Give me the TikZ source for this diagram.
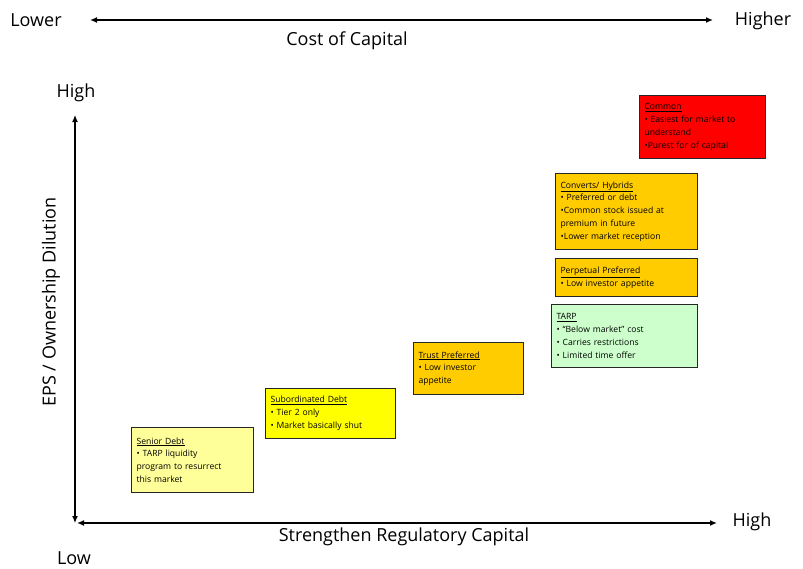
\documentclass[tikz,border=0pt]{standalone}
\usepackage{fontspec}
\setmainfont{Open Sans}
\usepackage{xcolor}
\usetikzlibrary{arrows.meta, positioning}
\definecolor{capred}{HTML}{FF0000}
\definecolor{capgold}{HTML}{FFCC00}
\definecolor{capyellow}{HTML}{FFFF00}
\definecolor{capcream}{HTML}{FFFF99}
\definecolor{capgreen}{HTML}{CCFFCC}
\tikzset{
  capbox/.style={rectangle, draw=black!85, line width=1.1pt, anchor=north west, align=left, inner sep=4pt, font=\fontsize{8.6}{12.8}\selectfont},
  axis/.style={line width=1.5pt, {Latex[length=7pt,width=6pt]}-{Latex[length=7pt,width=6pt]}},
  biglabel/.style={font=\fontsize{18}{20}\selectfont, inner sep=0pt}
}
\begin{document}
\begin{tikzpicture}[x=1pt, y=-1pt]
\useasboundingbox (0,0) rectangle (803,568);
% cost of capital scale
\node[biglabel] (lower) at (36,20) {Lower};
\node[biglabel] (higher) at (763,21) {Higher};
\coordinate (costl) at (90,20);
\coordinate (costr) at (713,20);
\draw[axis] (costl) -- (costr);
\node[biglabel] (cost) at (347,41) {Cost of Capital};

% axes
\coordinate (ytop) at (75,115);
\coordinate (ybot) at (75,523);
\coordinate (xleft) at (77,523);
\coordinate (xright) at (717,523);
\draw[axis, line width=1.2pt] (ytop) -- (ybot);
\draw[axis, line width=2pt] (xleft) -- (xright);
\node[biglabel] (yhigh) at (76,93) {High};
\node[biglabel] (xhigh) at (752,522) {High};
\node[biglabel] (low) at (74,558) {Low};
\node[biglabel] (xtitle) at (404,537) {Strengthen Regulatory Capital};
\node[biglabel, rotate=90] (ytitle) at (51,302) {EPS / Ownership Dilution};

% instruments
\node[capbox, fill=capred, minimum width=126pt, minimum height=63pt, text width=116pt] (common) at (639,95)
  {\underline{Common}\\ • Easiest for market to\\ understand\\ •Purest for of capital};
\node[capbox, fill=capgold, minimum width=142pt, minimum height=76pt, text width=132pt] (converts) at (555,173)
  {\underline{Converts/ Hybrids}\\ • Preferred or debt\\ •Common stock issued at\\ premium in future\\ •Lower market reception};
\node[capbox, fill=capgold, minimum width=142pt, minimum height=38pt, text width=132pt] (perpetual) at (555,258)
  {\underline{Perpetual Preferred}\\ • Low investor appetite};
\node[capbox, fill=capgreen, minimum width=146pt, minimum height=63pt, text width=136pt] (tarp) at (551,304)
  {\underline{TARP}\\ • “Below market” cost\\ • Carries restrictions\\ • Limited time offer};
\node[capbox, fill=capgold, minimum width=110pt, minimum height=52pt, text width=100pt] (trust) at (413,342)
  {\underline{Trust Preferred}\\ • Low investor\\ appetite};
\node[capbox, fill=capyellow, minimum width=130pt, minimum height=50pt, text width=120pt] (subdebt) at (265,388)
  {\underline{Subordinated Debt}\\ • Tier 2 only\\ • Market basically shut};
\node[capbox, fill=capcream, minimum width=122pt, minimum height=65pt, text width=112pt] (senior) at (131,427)
  {\underline{Senior Debt}\\ • TARP liquidity\\ program to resurrect\\ this market};
\end{tikzpicture}
\end{document}
